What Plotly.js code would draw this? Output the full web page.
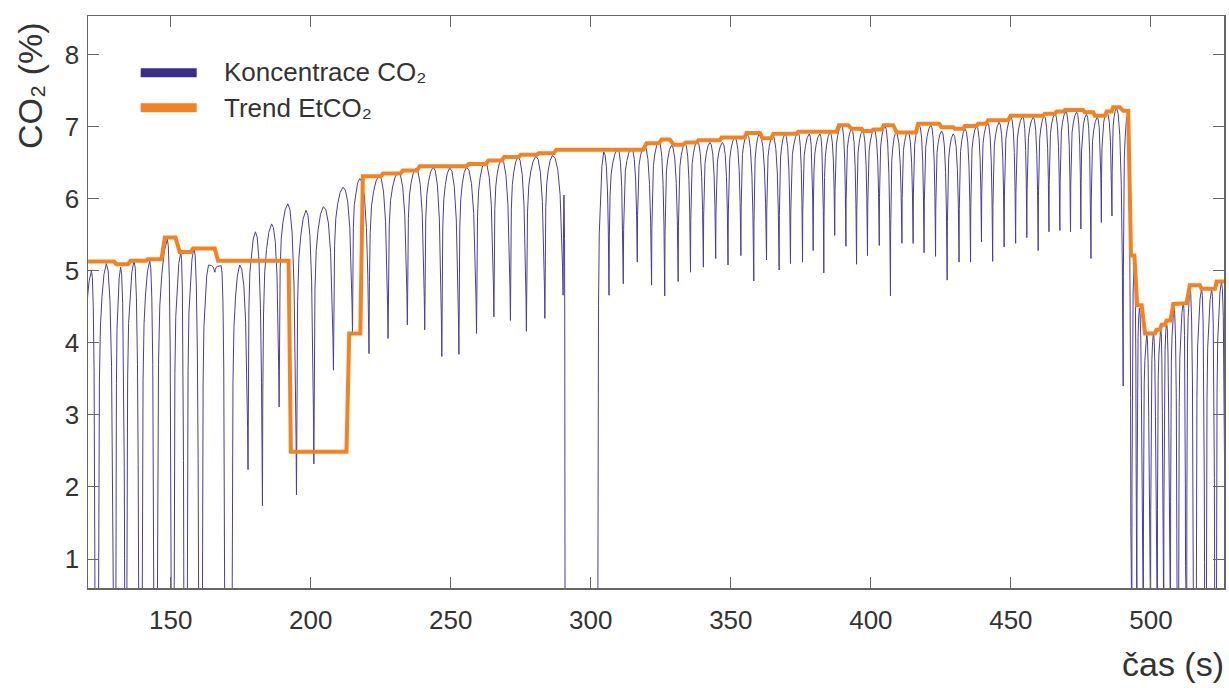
<!DOCTYPE html>
<html>
<head>
<meta charset="utf-8">
<script src="https://cdn.plot.ly/plotly-3.0.1.min.js"></script>
<style>
html,body{margin:0;padding:0;background:#ffffff;}
#chart{width:1229px;height:688px;}
</style>
</head>
<body>
<div id="chart"></div>
<script>
// ---- Data (time in s, CO2 in %) ----
// breath peaks of the CO2 concentration signal
const peakTime = [121.7,127.0,132.1,136.9,142.5,148.8,153.6,158.3,163.5,168.0,
  174.6,180.25,186.0,191.8,198.3,204.5,211.5,217.5,224.4,231.2,
  237.5,243.7,249.6,255.6,262.1,268.1,274.0,280.4,286.3,290.45,
  304.6,309.6,314.5,319.1,324.3,328.8,333.6,338.0,342.5,347.0,
  351.4,355.8,360.1,364.9,369.3,374.0,378.0,381.8,385.4,389.5,
  393.1,397.0,401.1,405.0,408.9,413.2,417.25,421.4,425.25,429.4,
  433.6,437.75,441.7,445.8,450.0,454.2,458.0,461.9,465.7,469.6,
  473.5,477.0,480.8,484.2,487.7,491.7,494.2,495.9,498.5,500.9,
  503.5,505.6,508.2,511.6,513.9,518.1,521.7,525.2];
const peakValue = [5.00,5.10,5.05,5.14,5.14,5.44,5.26,5.32,5.08,5.07,
  5.08,5.54,5.65,5.93,5.84,5.89,6.16,6.28,6.32,6.37,
  6.42,6.44,6.43,6.44,6.51,6.55,6.58,6.59,6.60,6.05,
  6.65,6.69,6.70,6.74,6.80,6.74,6.77,6.80,6.78,6.78,
  6.85,6.90,6.90,6.88,6.90,6.92,6.90,6.90,6.92,7.02,
  6.97,6.95,6.96,7.01,6.92,6.93,7.02,7.02,6.94,6.90,
  6.97,7.01,7.05,7.06,7.13,7.14,7.13,7.15,7.18,7.21,
  7.20,7.17,7.13,7.20,7.26,7.20,5.17,4.48,4.13,4.14,
  4.21,4.28,4.50,4.56,4.78,4.75,4.74,4.85];
// troughs between breaths (start and end of the low part, value)
const troughStart = [118.8,123.0,129.6,133.6,138.6,144.0,150.2,154.7,160.0,165.8,
  169.3,177.6,182.75,188.7,194.9,201.1,208.1,214.9,220.8,227.6,
  234.5,240.7,246.8,252.9,259.2,265.4,271.3,277.0,283.6,290.1,
  290.8,306.5,311.6,316.6,321.7,326.4,331.2,335.6,340.2,344.6,
  349.0,353.6,358.2,362.75,367.25,371.3,375.6,379.4,383.2,387.1,
  391.1,394.9,398.8,403.0,407.0,411.1,415.1,419.0,423.1,427.25,
  431.5,435.6,439.5,443.5,447.6,451.7,455.7,459.75,463.6,467.5,
  471.3,475.0,478.6,482.3,486.1,490.1,492.9,494.8,496.9,499.5,
  501.9,504.3,506.6,509.4,512.4,515.2,519.2,522.8,526.5];
const troughEnd = [118.8,124.2,130.4,134.3,139.8,145.2,151.2,155.9,161.3,165.8,
  171.9,177.6,182.75,188.7,194.9,201.1,208.1,214.9,220.8,227.6,
  234.5,240.7,246.8,252.9,259.2,265.4,271.3,277.0,283.6,290.1,
  302.5,306.5,311.6,316.6,321.7,326.4,331.2,335.6,340.2,344.6,
  349.0,353.6,358.2,362.75,367.25,371.3,375.6,379.4,383.2,387.1,
  391.1,394.9,398.8,403.0,407.0,411.1,415.1,419.0,423.1,427.25,
  431.5,435.6,439.5,443.5,447.6,451.7,455.7,459.75,463.6,467.5,
  471.3,475.0,478.6,482.3,486.1,490.1,493.2,495.0,497.3,499.9,
  502.3,504.6,507.0,509.9,512.8,516.2,519.8,523.4,526.5];
const troughValue = [0,0,0,0,0,0,0,0,0,4.98,
  0,2.24,1.74,3.11,1.89,2.32,3.62,4.15,3.85,4.06,
  4.25,4.18,3.81,3.84,4.13,4.36,4.31,4.16,4.34,4.66,
  0,4.66,4.82,5.12,4.80,4.65,4.85,4.98,5.05,5.17,
  5.08,5.21,4.86,5.15,5.01,5.10,5.12,5.28,4.97,5.49,
  5.34,5.09,5.21,5.35,4.65,5.38,5.38,5.25,5.20,4.87,
  5.12,5.12,5.40,5.13,5.33,5.38,5.46,5.28,5.54,5.56,
  5.54,5.58,5.17,5.67,5.76,3.40,0,0,0,0,
  0,0,0,0,0,0,0,0,0];
// EtCO2 trend (step line vertices)
const trendTime = [120.5,129.75,130.6,134.75,135.7,141.3,141.8,146.7,147.9,151.7,
  153.2,157.1,158.0,165.7,166.9,192.1,192.9,212.75,213.75,217.7,
  218.6,225.0,225.8,232.0,232.9,237.9,238.9,255.6,256.4,262.5,
  263.4,268.2,269.1,274.3,275.0,280.7,281.4,286.8,287.7,318.7,
  319.9,324.4,325.25,328.2,329.6,333.0,333.9,337.75,338.4,346.1,
  346.7,355.0,355.6,360.4,361.3,364.5,365.2,373.5,374.1,387.75,
  388.6,391.9,393.1,396.7,397.1,400.25,400.9,403.9,404.6,408.0,
  409.2,416.1,416.9,424.4,425.25,429.4,430.0,433.0,433.6,437.75,
  438.3,441.1,441.9,449.0,449.9,461.5,462.1,465.7,466.3,468.7,
  469.3,475.8,476.4,479.4,480.0,483.6,484.2,486.0,486.5,488.9,
  490.1,491.9,492.9,494.1,495.1,496.7,497.9,501.4,502.0,503.2,
  503.8,505.0,505.6,507.0,508.0,510.4,511.0,512.75,513.9,517.5,
  518.1,522.9,523.5,526.4];
const trendValue = [5.13,5.13,5.09,5.09,5.14,5.14,5.16,5.16,5.46,5.46,
  5.26,5.26,5.31,5.31,5.14,5.14,2.49,2.49,4.13,4.13,
  6.31,6.31,6.35,6.35,6.39,6.39,6.45,6.45,6.48,6.48,
  6.53,6.53,6.58,6.58,6.61,6.61,6.63,6.63,6.68,6.68,
  6.77,6.77,6.82,6.82,6.75,6.75,6.78,6.78,6.81,6.81,
  6.85,6.85,6.91,6.91,6.84,6.84,6.90,6.90,6.93,6.93,
  7.02,7.02,6.97,6.97,6.94,6.94,6.96,6.96,7.02,7.02,
  6.92,6.92,7.04,7.04,6.99,6.99,6.97,6.97,7.01,7.01,
  7.04,7.04,7.09,7.09,7.15,7.15,7.18,7.18,7.21,7.21,
  7.23,7.23,7.20,7.20,7.15,7.15,7.21,7.21,7.27,7.27,
  7.22,7.22,5.21,5.21,4.52,4.52,4.13,4.13,4.18,4.18,
  4.25,4.25,4.31,4.31,4.54,4.54,4.55,4.55,4.80,4.80,
  4.75,4.75,4.85,4.85];
const xTickValues = [150,200,250,300,350,400,450,500];
const yTickValues = [1,2,3,4,5,6,7,8];
const seriesNames = ['Koncentrace CO\u2082','Trend EtCO\u2082'];
const axisTitles = {x: 'čas (s)', y: 'CO\u2082 (%)'};

// ---- waveform shape of one breath (drawing style of the capnogram) ----
const RISE = [[0.04,0.4],[0.12,0.68],[0.25,0.83],[0.45,0.91],[0.7,0.97]];
const FALL = [[0.25,0.98],[0.5,0.9],[0.72,0.72],[0.87,0.45],[0.95,0.2]];
function buildWave(){
  const x=[], y=[];
  for(let i=0;i<troughStart.length;i++){
    x.push(troughStart[i]); y.push(troughValue[i]);
    if(troughEnd[i]!==troughStart[i]){ x.push(troughEnd[i]); y.push(troughValue[i]); }
    if(i<peakTime.length){
      const t0=troughEnd[i], v0=troughValue[i], tp=peakTime[i], vp=peakValue[i];
      RISE.forEach(([f,g])=>{ x.push(t0+f*(tp-t0)); y.push(v0+g*(vp-v0)); });
      x.push(tp); y.push(vp);
      const t1=troughStart[i+1], v1=troughValue[i+1];
      FALL.forEach(([f,g])=>{ x.push(tp+f*(t1-tp)); y.push(v1+g*(vp-v1)); });
    }
  }
  return {x,y};
}
const wave = buildWave();

const BLUE = '#4a3e9c', BLUE_KEY = '#3a2d8c', ORANGE = '#f5821f', AXIS = '#666666', TXT = '#333333';
const FONT = 'Liberation Sans, Arial, Helvetica, sans-serif';

const traces = [
  {type:'scatter', mode:'lines', name:seriesNames[0], x:wave.x, y:wave.y,
   line:{color:BLUE, width:1}, hoverinfo:'skip', showlegend:false},
  {type:'scatter', mode:'lines', name:seriesNames[1], x:trendTime, y:trendValue,
   line:{color:ORANGE, width:4}, hoverinfo:'skip', showlegend:false}
];

// plot area in px: x 88..1224, y 16..588
const L=88, R=1224, T=16, B=588;
const px = v => (v-L)/(R-L);
const py = v => (B-v)/(B-T);

const axisCommon = {
  ticks:'inside', ticklen:11, tickwidth:1, tickcolor:AXIS,
  showline:true, linecolor:AXIS, linewidth:1.5, mirror:'ticks',
  showgrid:false, zeroline:false, tickmode:'array',
  tickfont:{family:FONT, size:26, color:TXT}
};

const layout = {
  width:1229, height:688,
  margin:{l:L, r:1229-R, t:T, b:688-B, pad:0},
  paper_bgcolor:'#ffffff', plot_bgcolor:'#ffffff',
  font:{family:FONT, size:26, color:TXT},
  showlegend:false,
  xaxis:Object.assign({}, axisCommon, {range:[120.46,526.1], tickvals:xTickValues,
     ticktext:xTickValues.map(String), ticklabelstandoff:8}),
  yaxis:Object.assign({}, axisCommon, {range:[0.598,8.535], tickvals:yTickValues,
     ticktext:yTickValues.map(String), ticklabelstandoff:2}),
  shapes:[
    {type:'line', xref:'paper', yref:'paper', x0:px(140.7), x1:px(196.7), y0:py(72.7), y1:py(72.7),
     line:{color:BLUE_KEY, width:9}},
    {type:'line', xref:'paper', yref:'paper', x0:px(140.7), x1:px(196.7), y0:py(107.7), y1:py(107.7),
     line:{color:ORANGE, width:9}}
  ],
  annotations:[
    {xref:'paper', yref:'paper', x:px(222), y:py(72.5), xanchor:'left', yanchor:'middle',
     text:seriesNames[0], showarrow:false, font:{family:FONT, size:26, color:TXT}},
    {xref:'paper', yref:'paper', x:px(222), y:py(107.5), xanchor:'left', yanchor:'middle',
     text:seriesNames[1], showarrow:false, font:{family:FONT, size:26, color:TXT}},
    {xref:'paper', yref:'paper', x:px(30), y:py(86), xanchor:'center', yanchor:'middle',
     textangle:-90, text:axisTitles.y, showarrow:false, font:{family:FONT, size:34, color:TXT}},
    {xref:'paper', yref:'paper', x:px(1226), y:py(664), xanchor:'right', yanchor:'middle',
     text:axisTitles.x, showarrow:false, font:{family:FONT, size:34, color:TXT}}
  ]
};

Plotly.newPlot('chart', traces, layout, {staticPlot:true, displayModeBar:false});
</script>
</body>
</html>
